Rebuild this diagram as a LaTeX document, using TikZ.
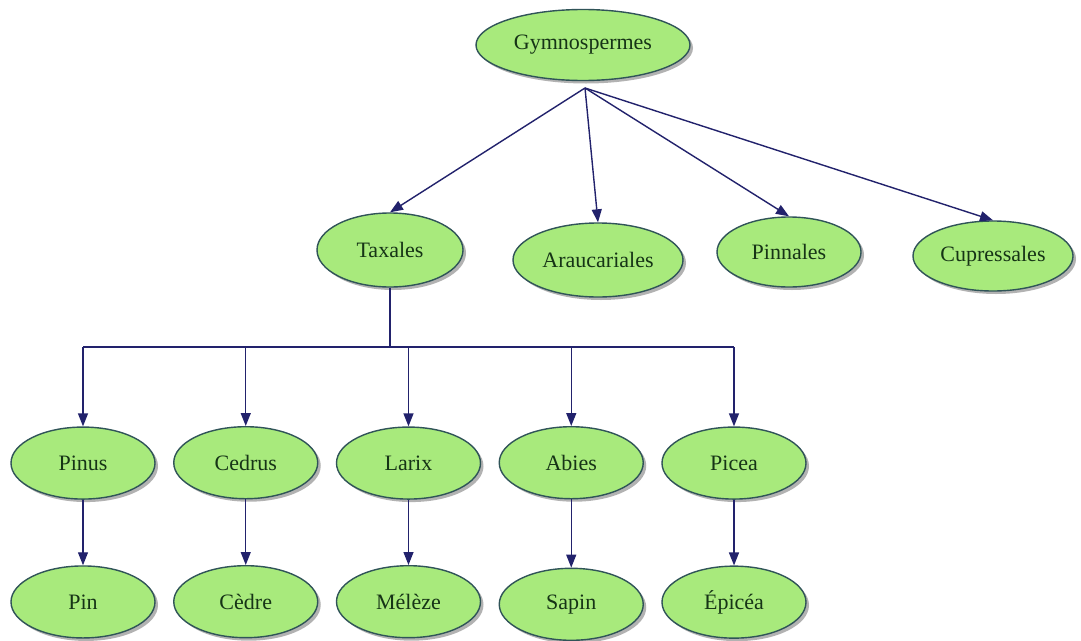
\documentclass[tikz,border=0pt]{standalone}
\usepackage{fontspec}
\setmainfont{Liberation Serif}
\usetikzlibrary{arrows.meta,matrix,positioning,shadows,shapes.geometric}

\definecolor{nodefill}{RGB}{168,234,124}
\definecolor{nodeline}{RGB}{48,84,88}
\definecolor{nodetext}{RGB}{22,52,22}
\definecolor{edgeblue}{RGB}{34,34,108}

\tikzset{
  taxon/.style={ellipse,draw=nodeline,line width=1.4pt,fill=nodefill,
    text=nodetext,font=\rmfamily\fontsize{22}{22}\selectfont,inner sep=0pt,
    minimum width=144pt,minimum height=72pt,
    drop shadow={shadow xshift=3pt,shadow yshift=-3pt,fill=black!60}},
  link/.style={draw=edgeblue,line width=1.4pt}
}

\begin{document}
\begin{tikzpicture}[x=1pt,y=-1pt,>={Triangle[length=13pt,width=10pt]}]

  \useasboundingbox (0,0) rectangle (1081,640);
  \fill[white] (0,0) rectangle (1081,640);
%
  \node[taxon,minimum width=214pt,minimum height=71pt] (gym) at (583,45) {Gymnospermes};
  \coordinate (gs) at (585,88);
%
  \node[taxon,minimum width=146pt,minimum height=74pt] (tax) at (390,250) {Taxales};
  \node[taxon,minimum width=170pt,minimum height=74pt] (ara) at (598,260) {Araucariales};
  \node[taxon,minimum height=70pt] (pnl) at (789,252) {Pinnales};
  \node[taxon,minimum width=160pt,minimum height=70pt] (cup) at (993,256) {Cupressales};
%
  \matrix[matrix of nodes,nodes={taxon},column sep={162.75pt,between origins},
          row sep={139pt,between origins}] (m) at (408.5,533.5) {
%
    |[name=pinus]| Pinus
  & |[name=cedrus]| Cedrus
  & |[name=larix]| Larix
  & |[name=abies]| Abies
  & |[name=picea]| Picea \\
%
    |[name=pin]| Pin
  & |[name=cedre]| Cèdre
  & |[name=meleze]| Mélèze
  & |[name=sapin]| Sapin
  & |[name=epicea]| Épicéa \\
%
  } ;
%
  \draw [link,->] (gs) -- (tax.north) ;
  \draw [link,->] (gs) -- (ara.north) ;
  \draw [link,->] (gs) -- (pnl.north) ;
  \draw [link,->] (gs) -- (cup.north) ;
%
  \coordinate (bus) at (390,347) ;
  \draw [link] (tax) -- (bus) ;
  \draw [link] (bus -| pinus) -- (bus -| picea) ;
  \foreach \n in {pinus,cedrus,larix,abies,picea}
    \draw [link,->] (bus -| \n) -- (\n) ;
%
  \foreach \a/\b in {pinus/pin,cedrus/cedre,larix/meleze,abies/sapin,picea/epicea}
    \draw [link,->] (\a) -- (\b) ;

\end{tikzpicture}
\end{document}
